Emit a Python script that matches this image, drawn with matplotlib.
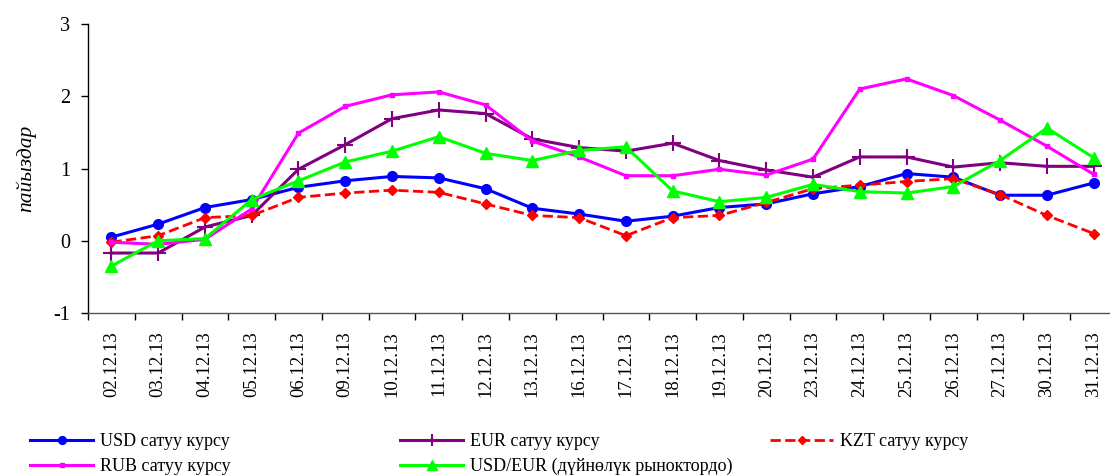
import numpy as np
import matplotlib
matplotlib.use('Agg')
from matplotlib import pyplot as plt

plt.rcParams['font.family'] = ['Liberation Serif', 'DejaVu Serif']
plt.rcParams['axes.unicode_minus'] = False

dates = ['02.12.13', '03.12.13', '04.12.13', '05.12.13', '06.12.13', '09.12.13',
         '10.12.13', '11.12.13', '12.12.13', '13.12.13', '16.12.13', '17.12.13',
         '18.12.13', '19.12.13', '20.12.13', '23.12.13', '24.12.13', '25.12.13',
         '26.12.13', '27.12.13', '30.12.13', '31.12.13']

usd = [0.05, 0.23, 0.46, 0.57, 0.74, 0.83, 0.89, 0.87, 0.72, 0.45, 0.37, 0.27,
       0.34, 0.46, 0.51, 0.65, 0.75, 0.93, 0.88, 0.63, 0.63, 0.80]
eur = [-0.17, -0.17, 0.19, 0.35, 0.99, 1.33, 1.69, 1.81, 1.76, 1.41, 1.29, 1.24,
       1.35, 1.11, 0.98, 0.88, 1.16, 1.16, 1.02, 1.08, 1.03, 1.03]
kzt = [-0.02, 0.07, 0.32, 0.35, 0.60, 0.66, 0.70, 0.67, 0.51, 0.35, 0.32, 0.07,
       0.32, 0.35, 0.53, 0.72, 0.77, 0.82, 0.86, 0.64, 0.35, 0.10]
rub = [-0.02, -0.05, 0.02, 0.44, 1.49, 1.86, 2.02, 2.06, 1.88, 1.38, 1.16, 0.90,
       0.90, 0.99, 0.91, 1.13, 2.10, 2.24, 2.01, 1.67, 1.31, 0.92]
usd_eur = [-0.35, 0.0, 0.03, 0.57, 0.83, 1.09, 1.24, 1.44, 1.21, 1.11, 1.25, 1.30,
           0.69, 0.54, 0.60, 0.78, 0.68, 0.66, 0.75, 1.11, 1.56, 1.15]

x = np.arange(len(dates))

fig = plt.figure(figsize=(11.1, 4.75), dpi=100)
ax = fig.add_axes([88/1110, 1-313/475, 1029/1110, 289/475])

l_usd, = ax.plot(x, usd, '-', color='#0000FF', lw=2.2, marker='o', ms=7, label='USD сатуу курсу')
l_eur, = ax.plot(x, eur, '-', color='#800080', lw=2.2, marker='+', ms=11, mew=1.5, label='EUR сатуу курсу')
l_kzt, = ax.plot(x, kzt, '--', color='#FF0000', lw=2.0, marker='D', ms=5.5, label='KZT сатуу курсу')
l_rub, = ax.plot(x, rub, '-', color='#FF00FF', lw=2.2, marker='s', ms=3.5, label='RUB сатуу курсу')
l_ue, = ax.plot(x, usd_eur, '-', color='#00FF00', lw=2.2, marker='^', ms=9, label='USD/EUR (дүйнөлүк рыноктордо)')

ax.set_xlim(-0.5, len(dates) - 0.5)
ax.set_ylim(-1, 3)
ax.set_yticks([-1, 0, 1, 2, 3])
ax.set_xticks(x)
ax.set_xticklabels(dates, rotation=90, fontsize=13.5)
ax.set_xticks(np.arange(len(dates)) - 0.5, minor=True)
ax.tick_params(axis='x', which='major', length=0, pad=13)
ax.tick_params(axis='x', which='minor', length=5, width=1)
ax.tick_params(axis='y', labelsize=14.5, length=5, width=1, pad=8)
for s in ['top', 'right']:
    ax.spines[s].set_visible(False)
ax.spines['left'].set_linewidth(1)
ax.spines['bottom'].set_linewidth(1)
ax.spines['bottom'].set_color('#555555')
ax.set_ylabel('пайыздар', fontsize=15.5, style='italic', labelpad=12)

cols = [([l_usd, l_rub], 30), ([l_eur, l_ue], 400), ([l_kzt], 770)]
for handles, px in cols:
    leg = fig.legend(handles=handles, loc='upper left',
                     bbox_to_anchor=(px/1110, 1-433/475), frameon=False,
                     fontsize=13, handlelength=3.5, handletextpad=0.4,
                     borderpad=0, borderaxespad=0, labelspacing=0.45,
                     markerscale=0.8)

fig.savefig('out.png', dpi=100)
